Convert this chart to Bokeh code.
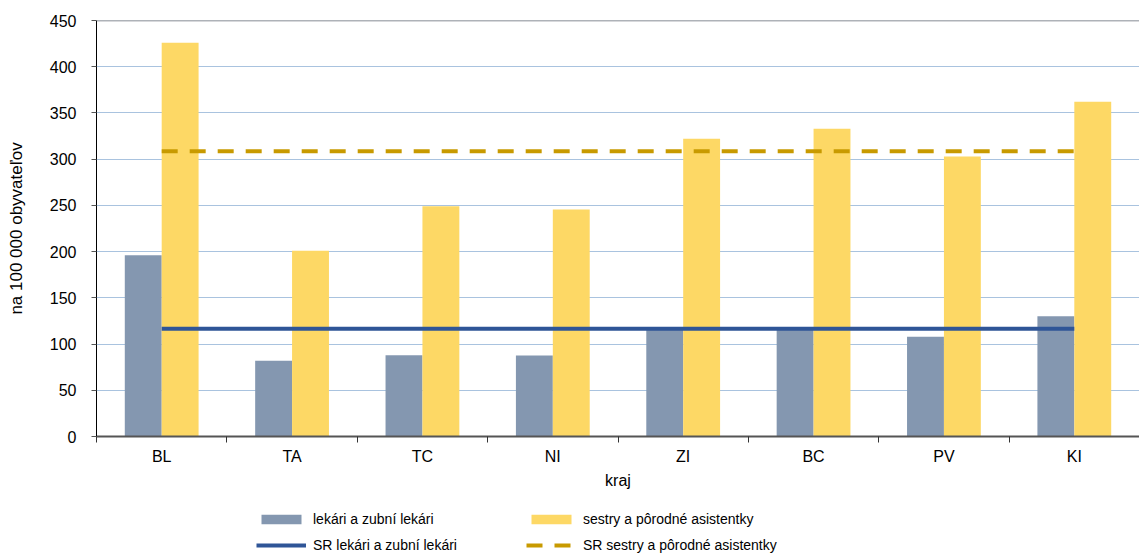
from bokeh.plotting import figure
from bokeh.layouts import column
from bokeh.models import (Range1d, FixedTicker, Legend, LegendItem, Span, ColumnDataSource)
from bokeh.transform import dodge
from bokeh.embed import file_html
from bokeh.resources import INLINE

categories = ["BL", "TA", "TC", "NI", "ZI", "BC", "PV", "KI"]
lekari = [196, 82, 88, 87.5, 116.5, 117, 108, 130]
sestry = [426, 201, 249, 245.5, 322, 333, 303, 362]
sr_lekari = 116.5
sr_sestry = 308.5
y_ticks = [0, 50, 100, 150, 200, 250, 300, 350, 400, 450]
series_names = ["lekári a zubní lekári", "sestry a pôrodné asistentky",
                "SR lekári a zubní lekári", "SR sestry a pôrodné asistentky"]

FONT = "Liberation Sans"
GRAY = "#8497B0"
YELLOW = "#FDD865"
BLUE = "#2F5597"
GOLD = "#C89A00"
DASH = "16 12"

n = len(categories)
centers = [i + 0.5 for i in range(n)]
src = ColumnDataSource(dict(
    x=centers, lek=lekari, ses=sestry,
    sr_lek=[sr_lekari] * n, sr_ses=[sr_sestry] * n,
))
bw = 0.283


def draw_series(fig):
    r1 = fig.vbar(x=dodge("x", -bw / 2, range=fig.x_range), top="lek", width=bw, source=src,
                  fill_color=GRAY, line_color=None)
    r2 = fig.vbar(x=dodge("x", bw / 2, range=fig.x_range), top="ses", width=bw, source=src,
                  fill_color=YELLOW, line_color=None)
    r3 = fig.line(x="x", y="sr_lek", source=src, line_color=BLUE, line_width=4)
    r4 = fig.line(x="x", y="sr_ses", source=src, line_color=GOLD, line_width=4, line_dash=DASH)
    return r1, r2, r3, r4


p = figure(width=1139, height=495, output_backend="svg", toolbar_location=None,
           x_range=Range1d(0, n), y_range=Range1d(0, y_ticks[-1]),
           min_border_left=96, min_border_right=0, min_border_top=20, min_border_bottom=59)
p.background_fill_color = "white"
p.border_fill_color = "white"
p.outline_line_color = None
draw_series(p)

p.add_layout(Span(location=y_ticks[-1], dimension="width", line_color="#5F6672", line_width=1.5))

# axes
p.yaxis.ticker = FixedTicker(ticks=y_ticks)
p.yaxis.axis_label = "na 100 000 obyvateľov"
p.yaxis.axis_label_text_font = FONT
p.yaxis.axis_label_text_font_size = "17px"
p.yaxis.axis_label_text_font_style = "normal"
p.yaxis.axis_label_text_color = "#000000"
p.yaxis.axis_label_standoff = 21
p.yaxis.major_label_text_font = FONT
p.yaxis.major_label_text_font_size = "16px"
p.yaxis.major_label_text_color = "#000000"
p.yaxis.major_label_standoff = 15
p.yaxis.axis_line_color = "#000000"
p.yaxis.major_tick_line_color = "#555555"
p.yaxis.major_tick_out = 5
p.yaxis.major_tick_in = 0
p.yaxis.minor_tick_line_color = None

p.xaxis.ticker = FixedTicker(ticks=centers, minor_ticks=list(range(n + 1)))
p.xaxis.major_label_overrides = {c: lab for c, lab in zip(centers, categories)}
p.xaxis.axis_label = "kraj"
p.xaxis.axis_label_text_font = FONT
p.xaxis.axis_label_text_font_size = "16px"
p.xaxis.axis_label_text_font_style = "normal"
p.xaxis.axis_label_text_color = "#000000"
p.xaxis.axis_label_standoff = 4
p.xaxis.major_label_text_font = FONT
p.xaxis.major_label_text_font_size = "16px"
p.xaxis.major_label_text_color = "#000000"
p.xaxis.major_label_standoff = 5
p.xaxis.axis_line_color = "#555555"
p.xaxis.axis_line_width = 2
p.xaxis.major_tick_line_color = None
p.xaxis.minor_tick_line_color = "#333333"
p.xaxis.minor_tick_out = 6
p.xaxis.minor_tick_in = 0

p.xgrid.grid_line_color = None
p.ygrid.ticker = FixedTicker(ticks=y_ticks[:-1])
p.ygrid.grid_line_color = "#A9C3DF"
p.ygrid.grid_line_width = 1

# legend strip (same series, drawn outside its visible range so only the legend shows)
lg = figure(width=1139, height=60, output_backend="svg", toolbar_location=None,
            x_range=Range1d(0, n), y_range=Range1d(10000, 10001),
            x_axis_type=None, y_axis_type=None,
            min_border_left=96, min_border_right=0, min_border_top=0, min_border_bottom=0)
lg.outline_line_color = None
lg.grid.visible = False
k_lek, k_ses, k_srl, k_srs = draw_series(lg)


def make_legend(items, x):
    return Legend(items=items, location=(x, 0), orientation="vertical",
                  glyph_width=50, glyph_height=12, label_height=20, spacing=6,
                  padding=0, margin=0, label_standoff=7,
                  label_text_font=FONT, label_text_font_size="14px",
                  label_text_color="#000000",
                  border_line_color=None, background_fill_alpha=0)


lg.add_layout(make_legend([LegendItem(label=series_names[0], renderers=[k_lek]),
                           LegendItem(label=series_names[2], renderers=[k_srl])], 160))
lg.add_layout(make_legend([LegendItem(label=series_names[1], renderers=[k_ses]),
                           LegendItem(label=series_names[3], renderers=[k_srs])], 430))

layout = column(p, lg, spacing=0)
open("out.html", "w").write(file_html(layout, INLINE))
